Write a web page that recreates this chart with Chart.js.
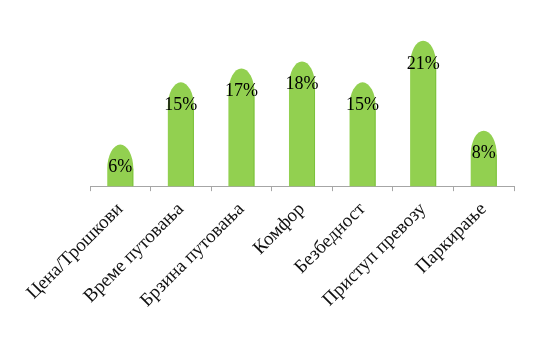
<!DOCTYPE html>
<html>
<head>
<meta charset="utf-8">
<script src="https://cdn.jsdelivr.net/npm/chart.js@4/dist/chart.umd.min.js"></script>
<style>
  html, body { margin: 0; padding: 0; background: #fff; }
  #wrap { width: 550px; height: 344px; }
</style>
</head>
<body>
<div id="wrap"><canvas id="chart"></canvas></div>
<script>
const categories = ["Цена/Трошкови", "Време путовања", "Брзина путовања", "Комфор", "Безбедност", "Приступ превозу", "Паркирање"];
const shares = [6, 15, 17, 18, 15, 21, 8];

const barGreen = "#92D050";
const edgeGreen = "#7cc23c";

// bullet shaped bars: straight sides, elliptical top
const bulletBars = {
    id: "bulletBars",
    beforeDatasetDraw(chart, args) {
        const ctx = chart.ctx;
        const meta = chart.getDatasetMeta(args.index);
        meta.data.forEach(bar => {
            const half = bar.width / 2;
            const left = bar.x - half;
            const right = bar.x + half;
            const d = Math.min(24, bar.base - bar.y);
            ctx.save();
            ctx.beginPath();
            ctx.moveTo(left, bar.base);
            ctx.lineTo(left, bar.y + d);
            ctx.ellipse(bar.x, bar.y + d, half, d, 0, Math.PI, 2 * Math.PI);
            ctx.lineTo(right, bar.base);
            ctx.closePath();
            ctx.fillStyle = barGreen;
            ctx.fill();
            ctx.beginPath();
            ctx.moveTo(right - 0.5, bar.y + d);
            ctx.lineTo(right - 0.5, bar.base);
            ctx.strokeStyle = edgeGreen;
            ctx.lineWidth = 1;
            ctx.stroke();
            ctx.restore();
        });
        return false;
    },
    afterDatasetsDraw(chart) {
        const ctx = chart.ctx;
        const meta = chart.getDatasetMeta(0);
        ctx.save();
        ctx.font = "18px 'Liberation Serif', 'Times New Roman', serif";
        ctx.fillStyle = "#000";
        ctx.textAlign = "center";
        ctx.textBaseline = "middle";
        meta.data.forEach((bar, i) => {
            ctx.fillText(shares[i] + "%", bar.x, bar.y + 23);
        });
        ctx.restore();
    }
};

new Chart(document.getElementById("chart"), {
    type: "bar",
    data: {
        labels: categories,
        datasets: [{
            data: shares,
            backgroundColor: barGreen,
            categoryPercentage: 1,
            barPercentage: 0.43
        }]
    },
    options: {
        responsive: true,
        maintainAspectRatio: false,
        animation: false,
        layout: { padding: { left: 90, right: 36, top: 20, bottom: 25 } },
        plugins: { legend: { display: false }, tooltip: { enabled: false } },
        scales: {
            x: {
                grid: { drawOnChartArea: false, color: "#a6a6a6", tickLength: 5 },
                border: { color: "#a6a6a6" },
                ticks: {
                    minRotation: 45,
                    maxRotation: 45,
                    padding: 7,
                    color: "#111",
                    font: { family: "'Liberation Serif', 'Times New Roman', serif", size: 19 }
                }
            },
            y: { display: false, min: 0, max: 24 }
        }
    },
    plugins: [bulletBars]
});
</script>
</body>
</html>
